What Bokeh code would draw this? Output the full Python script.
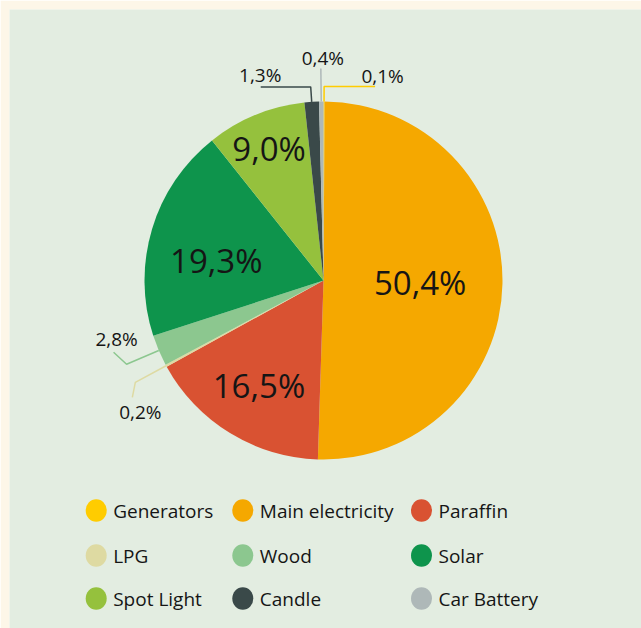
import numpy as np
from bokeh.plotting import figure
from bokeh.models import Range1d, ColumnDataSource
from bokeh.core.properties import value
from bokeh.embed import file_html
from bokeh.resources import INLINE

# ---------------- data ----------------
categories = ["Generators", "Main electricity", "Paraffin", "LPG", "Wood",
              "Solar", "Spot Light", "Candle", "Car Battery"]
shares = [0.1, 50.4, 16.5, 0.2, 2.8, 19.3, 9.0, 1.3, 0.4]
colors = ["#FFCC00", "#F5A800", "#D95232", "#DEDAA2", "#8CC78F",
          "#0E944C", "#95C13D", "#3A4949", "#AEB8B8"]

# ---------------- layout / style ----------------
FONT = "Open Sans"
TXT = "#151515"
GREEN_BG = "#E3EDE1"
CREAM_BG = "#FDF6E8"
H = 628  # screen height used to map y (data y = H - screen y)
cx, cy, R = 323, H - 280, 179

fr = np.array(shares) / sum(shares)
end = np.cumsum(fr)
start = end - fr
mid = (start + end) / 2
labels = [f"{v:.1f}".replace(".", ",") + "%" for v in shares]


def polar(frac, rad, deg_off=0.0):
    th = 2 * np.pi * frac + np.radians(deg_off)
    return cx + rad * np.sin(th), cy + rad * np.cos(th)


p = figure(width=641, height=628, x_range=Range1d(9, 641), y_range=Range1d(0, 619),
           output_backend="svg", toolbar_location=None,
           x_axis_location=None, y_axis_location=None,
           min_border_left=9, min_border_top=9, min_border_right=0, min_border_bottom=0,
           background_fill_color=GREEN_BG, border_fill_color=CREAM_BG)
p.grid.visible = False
p.outline_line_color = None

src = ColumnDataSource(dict(
    sa=np.pi / 2 - 2 * np.pi * end,
    ea=np.pi / 2 - 2 * np.pi * start,
    color=colors,
))
p.wedge(x=cx, y=cy, radius=R, start_angle="sa", end_angle="ea",
        fill_color="color", line_color=None, source=src)

# inside labels: (radius fraction, angle offset in degrees)
inside = {"Main electricity": (0.54, 0), "Paraffin": (0.69, 0),
          "Solar": (0.61, -6), "Spot Light": (0.80, 0)}
ix, iy, itxt = [], [], []
for i, c in enumerate(categories):
    if c in inside:
        rf, off = inside[c]
        x, y = polar(mid[i], rf * R, off)
        ix.append(x); iy.append(y); itxt.append(labels[i])
p.text(x=ix, y=iy, text=itxt, text_font=value(FONT), text_font_size="33px",
       text_align="center", text_baseline="middle", text_color=TXT)

# outside labels with leader lines: (elbow extra radius, end offset, label offset) (screen px)
outside = {
    "Generators": (15, (51, 0), (7.5, -11)),
    "Candle": (15, (-50, 0), (-0.5, -12)),
    "Car Battery": (33, (0, 0), (2, -11)),
    "Wood": (35, (-13, -12), (3, -13)),
    "LPG": (35, (-3, 15), (8, 15)),
}
lxs, lys, lcol, ox, oy, otxt = [], [], [], [], [], []
for i, c in enumerate(categories):
    if c in outside:
        dr, (ex, ey), (tx, ty) = outside[c]
        x0, y0 = polar(mid[i], R)
        x1, y1 = polar(mid[i], R + dr)
        x2, y2 = x1 + ex, y1 - ey
        lxs.append([x0, x1, x2]); lys.append([y0, y1, y2]); lcol.append(colors[i])
        ox.append(x2 + tx); oy.append(y2 - ty); otxt.append(labels[i])
p.multi_line(xs=lxs, ys=lys, line_color=lcol, line_width=1.5)
p.text(x=ox, y=oy, text=otxt, text_font=value(FONT), text_font_size="19px",
       text_align="center", text_baseline="middle", text_color=TXT)

# legend (3 x 3 grid)
col_x = [95.7, 242.3, 421]
row_y = [510, 555, 598]
gx = [col_x[i % 3] for i in range(len(categories))]
gy = [H - row_y[i // 3] for i in range(len(categories))]
p.ellipse(x=gx, y=gy, width=21, height=22.5, fill_color=colors, line_color=None)
p.text(x=[x + 17 for x in gx], y=gy, text=categories, text_font=value(FONT),
       text_font_size="19px", text_align="left", text_baseline="middle", text_color=TXT)

html = file_html(p, INLINE)
html = html.replace("<body>", f'<body style="background-color:{CREAM_BG};">', 1)
open("out.html", "w").write(html)
